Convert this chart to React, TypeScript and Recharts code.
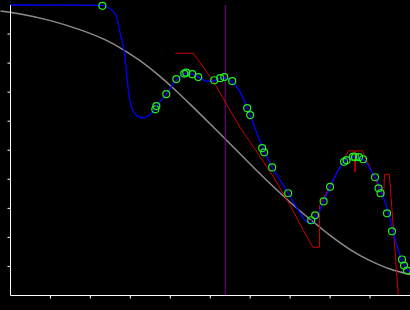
import { ComposedChart, LineChart, Line, Scatter, XAxis, YAxis, ReferenceLine } from 'recharts'

const W = 410
const H = 310

// smooth fit (blue)
const blueX = [0, 2.3, 2.418, 2.5, 2.583, 2.668, 2.725, 2.788, 2.85, 2.9, 2.95, 3.0, 3.075, 3.2, 3.325, 3.45, 3.575, 3.7, 3.9, 4.125, 4.25, 4.375, 4.55, 4.75, 4.9, 5.075, 5.25, 5.4, 5.55, 5.75, 5.925, 6.168, 6.418, 6.668, 6.958, 7.208, 7.418, 7.543, 7.708, 7.833, 8.0, 8.25, 8.375, 8.583, 8.708, 8.833, 9.0, 9.168, 9.333, 9.458, 9.583, 9.708, 9.833, 10]
const blueY = [10, 9.99, 9.94, 9.86, 9.76, 9.53, 9.14, 8.79, 8.38, 7.76, 7.07, 6.66, 6.34, 6.16, 6.12, 6.19, 6.33, 6.59, 6.93, 7.38, 7.55, 7.64, 7.62, 7.48, 7.38, 7.38, 7.48, 7.48, 7.34, 7.0, 6.48, 5.58, 4.77, 4.14, 3.51, 2.93, 2.53, 2.49, 2.82, 3.22, 3.73, 4.42, 4.66, 4.77, 4.75, 4.68, 4.37, 3.97, 3.39, 2.87, 2.18, 1.55, 1.09, 0.8]

// rough estimate (red)
const redX = [4.125, 4.575, 5.083, 5.75, 6.168, 6.583, 7.0, 7.333, 7.568, 7.733, 7.738, 8.458, 8.608, 8.625, 8.643, 8.808, 9.338, 9.363, 9.483, 9.708, 10]
const redY = [8.34, 8.34, 7.36, 5.78, 4.94, 4.08, 3.1, 2.24, 1.66, 1.66, 3.1, 4.98, 4.98, 4.24, 4.98, 4.98, 3.38, 4.17, 4.17, 0, 0]

// observations (green rings)
const obsX = [2.3, 3.625, 3.65, 3.9, 4.15, 4.35, 4.4, 4.55, 4.7, 5.1, 5.25, 5.35, 5.55, 5.925, 6.0, 6.3, 6.35, 6.55, 6.95, 7.525, 7.625, 7.838, 8.0, 8.35, 8.413, 8.575, 8.625, 8.725, 8.825, 9.125, 9.213, 9.263, 9.425, 9.55, 9.8, 9.85, 9.925]
const obsY = [9.97, 6.41, 6.52, 6.93, 7.45, 7.64, 7.67, 7.62, 7.52, 7.41, 7.48, 7.52, 7.38, 6.45, 6.21, 5.07, 4.93, 4.41, 3.52, 2.59, 2.76, 3.24, 3.74, 4.6, 4.66, 4.78, 4.76, 4.76, 4.69, 4.07, 3.69, 3.52, 2.83, 2.21, 1.24, 1.03, 0.86]

// prior (gray)
const grayX = [-0.25, 0.25, 1.0, 1.75, 2.375, 2.825, 3.25, 3.675, 4.075, 4.5, 5.075, 5.375, 5.75, 6.25, 6.75, 7.25, 7.75, 8.0, 8.5, 9.0, 9.5, 10]
const grayY = [9.793, 9.69, 9.462, 9.141, 8.797, 8.455, 8.072, 7.614, 7.128, 6.572, 5.793, 5.379, 4.862, 4.172, 3.517, 2.897, 2.331, 2.055, 1.566, 1.186, 0.897, 0.71]

const markerX = 5.375
const axisTicks = [1, 2, 3, 4, 5, 6, 7, 8, 9]

const zip = (xs: number[], ys: number[]) => xs.map((x, i) => ({ x, y: ys[i] }))

const blue = zip(blueX, blueY)
const red = zip(redX, redY)
const obs = zip(obsX, obsY)
const gray = zip(grayX, grayY)

const NoLabel = () => <g />

function Ring(props: any) {
  const { cx, cy } = props
  if (cx == null || cy == null) return null
  return (
    <g>
      <circle cx={cx} cy={cy} r={3.5} fill="none" stroke="#22ee22" strokeWidth={1.2} />
      <circle cx={cx} cy={cy} r={0.8} fill="#0000cc" />
    </g>
  )
}

export default function App() {
  return (
    <div style={{ position: 'absolute', left: 0, top: 0, width: W, height: H, background: '#000', overflow: 'hidden' }}>
      <div style={{ position: 'absolute', left: 0, top: 0 }}>
        <LineChart width={W} height={H} data={gray} margin={{ top: 5, right: 0, bottom: 15, left: 0.5 }}>
          <XAxis type="number" dataKey="x" domain={[-0.25, 10]} hide />
          <YAxis type="number" dataKey="y" domain={[0, 10]} hide />
          <Line
            type="natural"
            dataKey="y"
            stroke="#8c8c8c"
            strokeWidth={1.5}
            dot={false}
            activeDot={false}
            isAnimationActive={false}
          />
        </LineChart>
      </div>
      <div style={{ position: 'absolute', left: 0, top: 0 }}>
        <ComposedChart width={W} height={H} margin={{ top: 5, right: 0, bottom: 0, left: 0.5 }}>
          <XAxis
            type="number"
            dataKey="x"
            domain={[0, 10]}
            ticks={axisTicks}
            tick={NoLabel}
            tickSize={3}
            height={14.5}
            axisLine={{ stroke: '#fff' }}
            tickLine={{ stroke: '#fff' }}
          />
          <YAxis
            type="number"
            dataKey="y"
            domain={[0, 10]}
            ticks={axisTicks}
            tick={NoLabel}
            tickSize={3}
            width={10}
            axisLine={{ stroke: '#fff' }}
            tickLine={{ stroke: '#fff' }}
          />
          <ReferenceLine x={markerX} stroke="#800090" strokeWidth={1} />
          <Line
            data={red}
            type="linear"
            dataKey="y"
            stroke="#cc0000"
            strokeWidth={1}
            dot={false}
            activeDot={false}
            isAnimationActive={false}
          />
          <Line
            data={blue}
            type="monotone"
            dataKey="y"
            stroke="#0000ff"
            strokeWidth={1.3}
            dot={false}
            activeDot={false}
            isAnimationActive={false}
          />
          <Scatter data={obs} dataKey="y" shape={Ring} isAnimationActive={false} />
        </ComposedChart>
      </div>
    </div>
  )
}
